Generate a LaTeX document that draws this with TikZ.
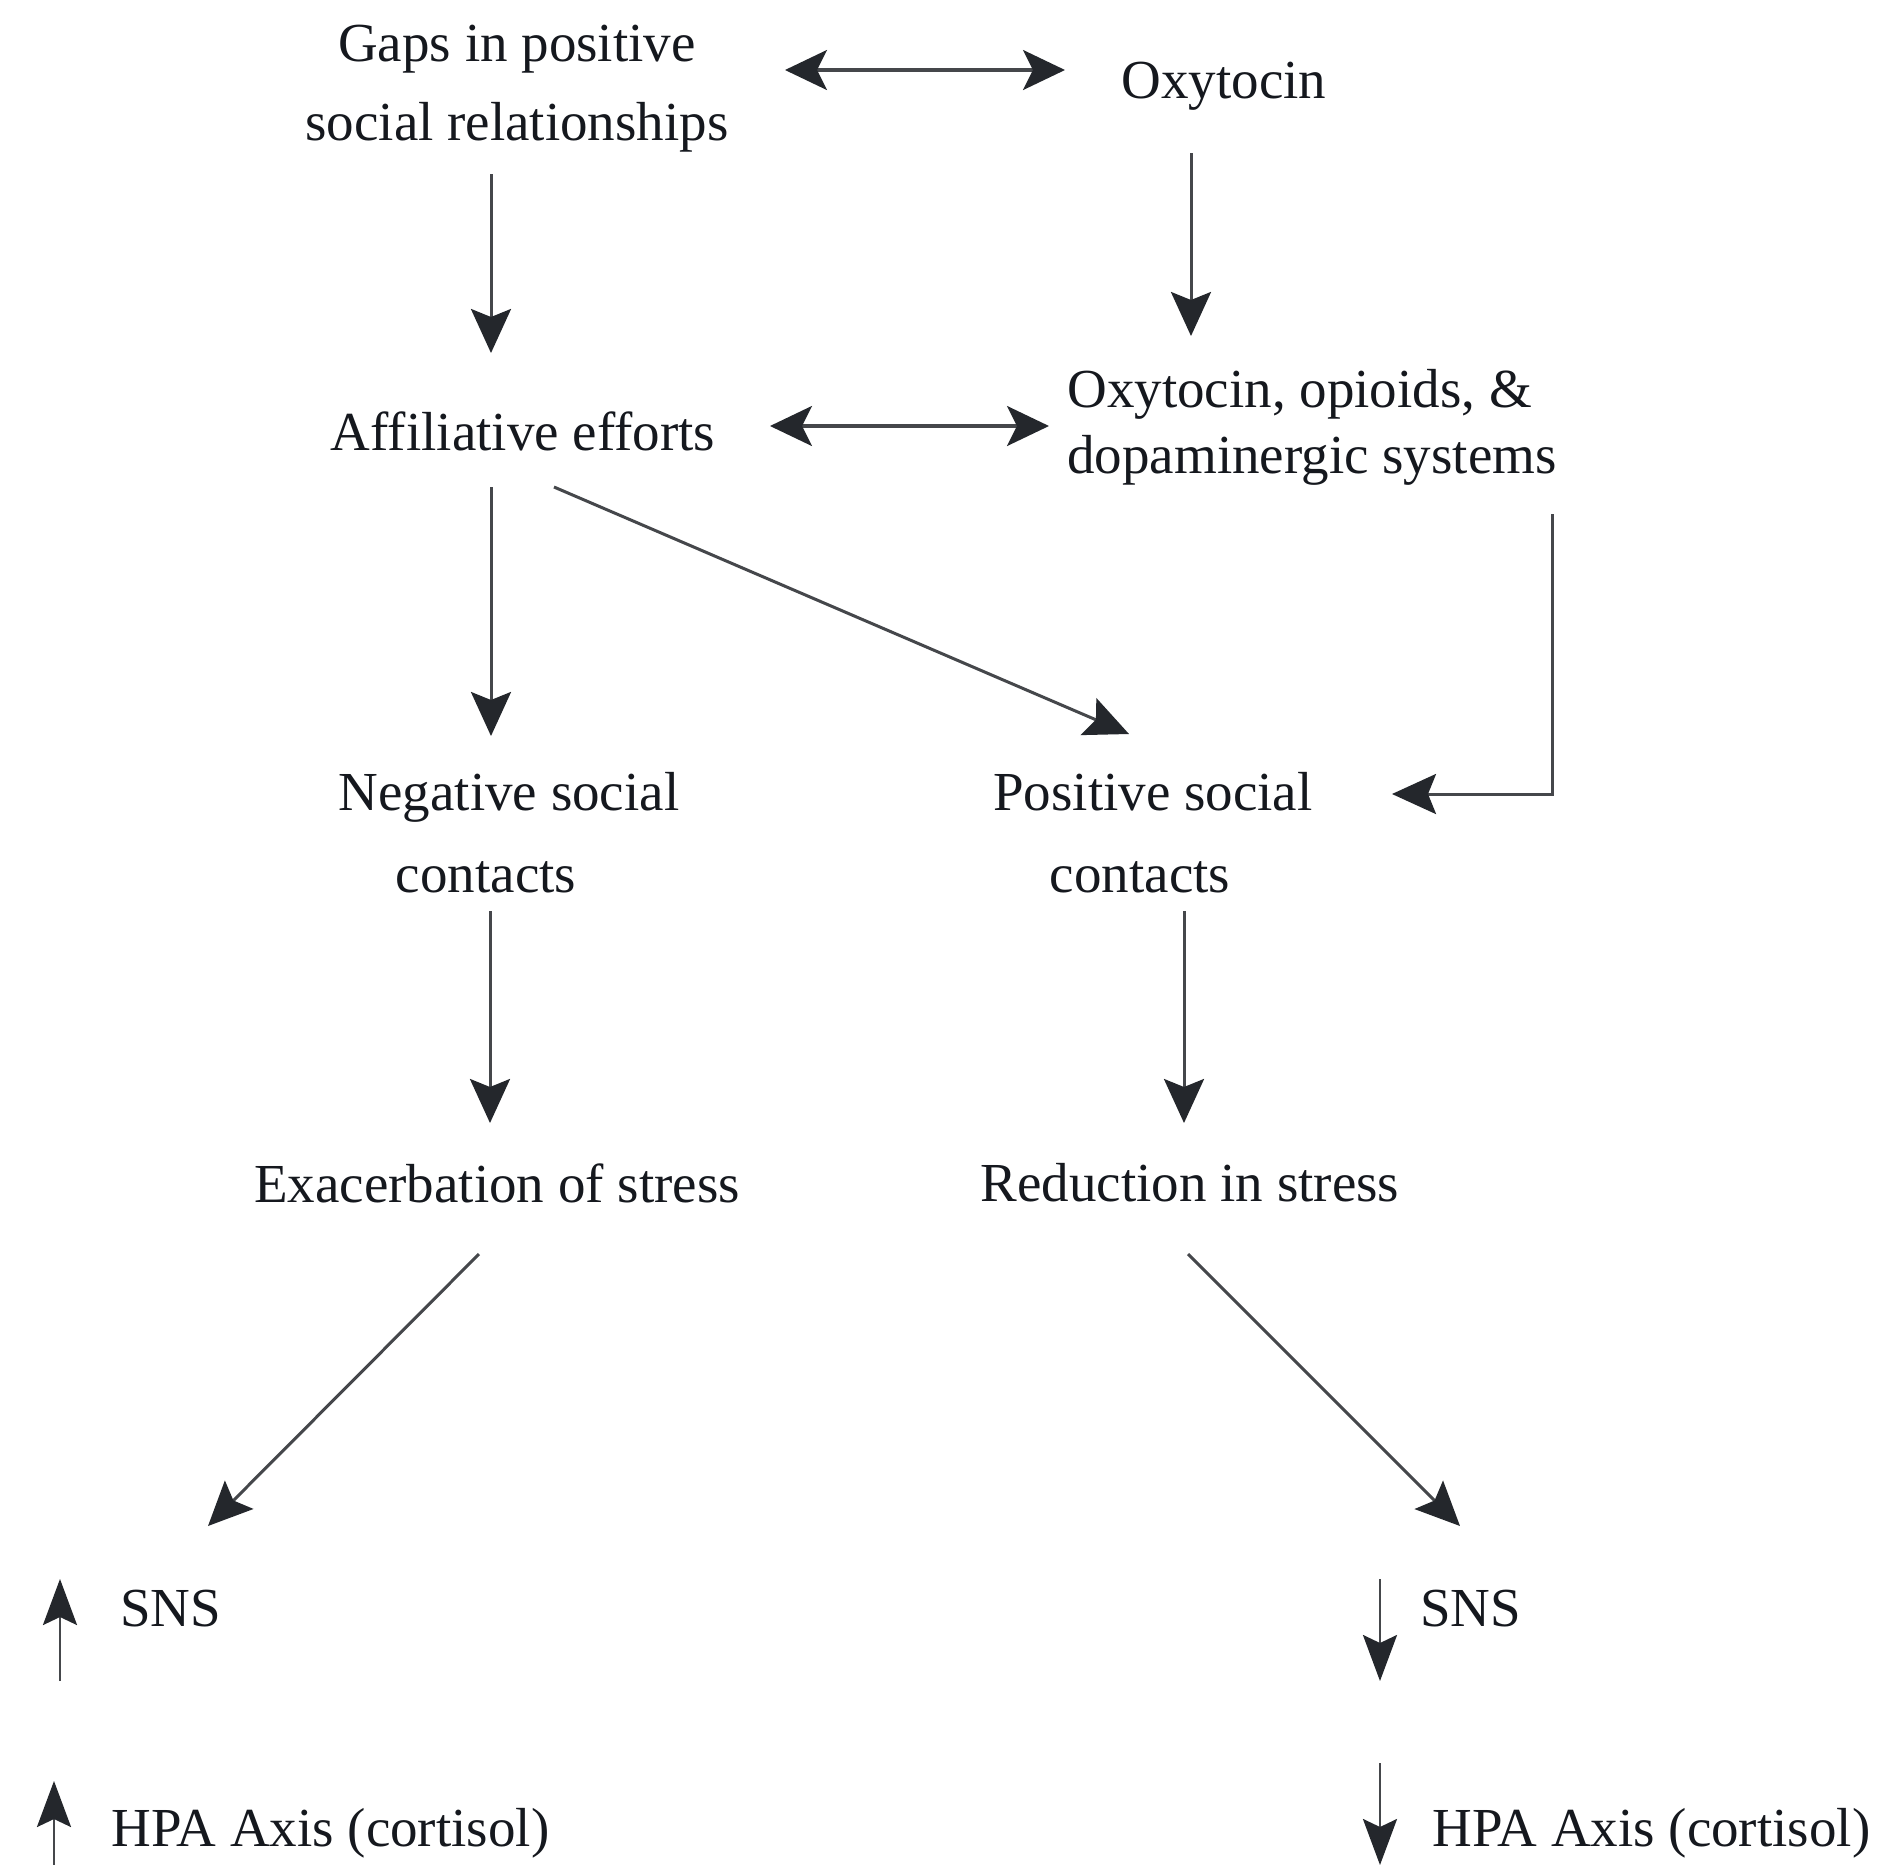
\documentclass[tikz,border=0pt]{standalone}
\usepackage{fontspec}
\setmainfont{Liberation Serif}
\usetikzlibrary{arrows.meta,calc}
\definecolor{txt}{HTML}{15181E}
\definecolor{ln}{HTML}{45474B}
\definecolor{hd}{HTML}{24272C}
\begin{document}
\begin{tikzpicture}[x=0.5pt,y=-0.5pt,
  lbl/.style={font=\fontsize{27.5}{33}\selectfont, inner sep=0pt, text=txt},
  arr/.style={draw=ln, line width=1.5pt, -{Stealth[length=22pt,width=20pt,inset=4pt,color=hd]}},
  darr/.style={draw=ln, line width=1.6pt, {Stealth[length=21pt,width=20pt,inset=5pt,color=hd]}-{Stealth[length=21pt,width=20pt,inset=5pt,color=hd]}},
  sarr/.style={draw=ln, line width=1.3pt, -{Stealth[length=23pt,width=17pt,inset=4pt,color=hd]}}]
\useasboundingbox (0,0) rectangle (1887,1865);
\fill[white] (0,0) rectangle (1887,1865);

\node[lbl, align=center, font=\fontsize{27.5}{39.5}\selectfont] (gaps) at (517,89) {Gaps in positive\\social relationships};
\node[lbl] (oxy) at (1224,86) {Oxytocin};
\node[lbl] (aff) at (523,431) {Affiliative efforts};
\node[lbl, align=left, anchor=west, font=\fontsize{27.5}{33}\selectfont] (ood) at (1067,427) {Oxytocin, opioids, \&\\dopaminergic systems};
\node[lbl, align=center, font=\fontsize{27.5}{41}\selectfont] (neg) at (509,833) {Negative social\\contacts\kern23pt};
\node[lbl, align=center, font=\fontsize{27.5}{41}\selectfont] (pos) at (1153,833) {Positive social\\contacts\kern13pt};
\node[lbl] (exa) at (497,1183) {Exacerbation of stress};
\node[lbl] (red) at (1190,1183) {Reduction in stress};
\node[lbl, anchor=west] (snsL) at (120,1609) {SNS};
\node[lbl, anchor=west] (hpaL) at (111,1833) {HPA Axis (cortisol)};
\node[lbl, anchor=west] (snsR) at (1420,1609) {SNS};
\node[lbl, anchor=west] (hpaR) at (1432,1833) {HPA Axis (cortisol)};

\draw[darr] ($(gaps)+(268,-19)$) -- ($(oxy)+(-159,-16)$);
\draw[arr] ($(gaps)+(-26,85)$) -- ($(aff)+(-32,-78)$);
\draw[arr] ($(oxy)+(-33,67)$) -- ($(ood.west)+(124,-91)$);
\draw[darr] ($(aff)+(247,-5)$) -- ($(ood.west)+(-18,-1)$);
\draw[arr] ($(aff)+(-32,56)$) -- ($(neg)+(-18,-97)$);
\draw[arr] ($(aff)+(31,56)$) -- ($(pos)+(-24,-99)$);
\draw[arr] ($(ood.west)+(485,87)$) |- ($(pos)+(239,-39)$);
\draw[arr] ($(neg)+(-19,78)$) -- ($(exa)+(-7,-60)$);
\draw[arr] ($(pos)+(31,78)$) -- ($(red)+(-6,-60)$);
\draw[arr] ($(exa)+(-18,71)$) -- ($(snsL.west)+(88,-83)$);
\draw[arr] ($(red)+(-2,71)$) -- ($(snsR.west)+(40,-83)$);

\draw[sarr] ($(snsL.west)+(-60,72)$) -- ($(snsL.west)+(-60,-30)$);
\draw[sarr] ($(hpaL.west)+(-57,32)$) -- ($(hpaL.west)+(-57,-52)$);
\draw[sarr] ($(snsR.west)+(-40,-30)$) -- ($(snsR.west)+(-40,72)$);
\draw[sarr] ($(hpaR.west)+(-52,-70)$) -- ($(hpaR.west)+(-52,32)$);
\end{tikzpicture}
\end{document}
